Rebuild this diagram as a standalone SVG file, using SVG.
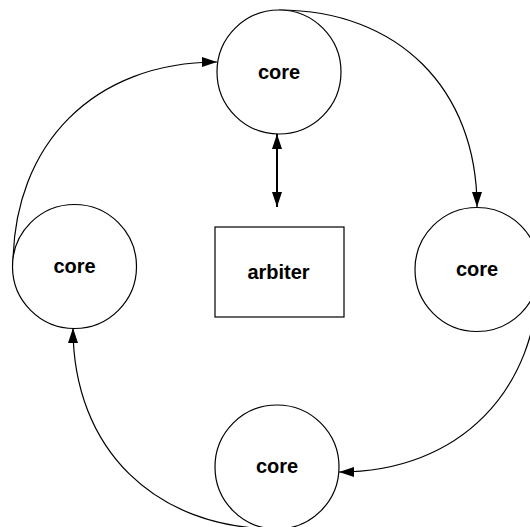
<svg xmlns="http://www.w3.org/2000/svg" width="530" height="527" viewBox="0 0 530 527">
  <style>
    .node { fill: #ffffff; stroke: #000000; stroke-width: 1.2; }
    .label { font-family: "Liberation Sans", Arial, sans-serif; font-size: 20px; font-weight: bold; fill: #000000; text-anchor: middle; }
    .edge { fill: none; stroke: #000000; stroke-width: 1.2; marker-end: url(#arrow); }
    .link { fill: none; stroke: #000000; stroke-width: 2; marker-start: url(#arrow); marker-end: url(#arrow); }
  </style>
  <defs>
    <marker id="arrow" markerUnits="userSpaceOnUse" markerWidth="16" markerHeight="11" refX="15" refY="5" orient="auto-start-reverse">
      <path d="M0,0 L15,5 L0,10 Z" fill="#000000"/>
    </marker>
  </defs>
  <rect width="530" height="527" fill="#ffffff"/>

  <g id="connectors">
    <path class="edge" d="M279,10 C398,10 477,89 477,207"/>
    <path class="edge" d="M539,270 C539,391 459,472 339,472"/>
    <path class="edge" d="M277,529 C155,529 73,449 73,328"/>
    <path class="edge" d="M13,266 C13,143 95,62 217,62"/>
    <path class="link" d="M277,134 L277,207"/>
  </g>

  <g id="core-top">
    <circle class="node" cx="279" cy="72" r="62"/>
    <text class="label" x="279" y="79">core</text>
  </g>
  <g id="core-left">
    <circle class="node" cx="74.5" cy="266.5" r="62"/>
    <text class="label" x="74.5" y="273">core</text>
  </g>
  <g id="core-right">
    <circle class="node" cx="477" cy="269.5" r="62"/>
    <text class="label" x="477" y="276">core</text>
  </g>
  <g id="core-bottom">
    <circle class="node" cx="277" cy="467" r="62"/>
    <text class="label" x="277" y="473">core</text>
  </g>
  <g id="arbiter">
    <rect class="node" x="215" y="227" width="129" height="90"/>
    <text class="label" x="278.5" y="279">arbiter</text>
  </g>
</svg>
